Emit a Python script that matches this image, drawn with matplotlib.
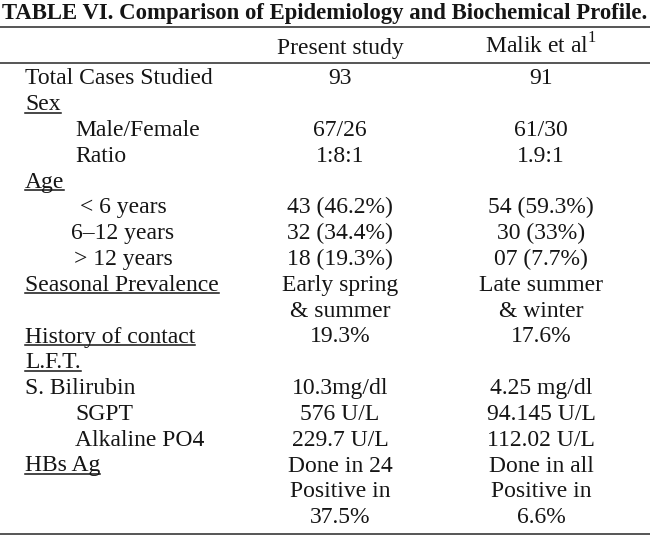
import matplotlib
matplotlib.use("Agg")
import matplotlib.pyplot as plt

plt.rcParams["font.family"] = ["Liberation Serif", "DejaVu Serif"]
plt.rcParams["mathtext.fontset"] = "custom"
plt.rcParams["mathtext.rm"] = "Liberation Serif"

title = "TABLE VI. Comparison of Epidemiology and Biochemical Profile."
headers = ["Present study", "Malik et al$^{1}$"]

row_labels = [
    "Total Cases Studied", "Sex", "Male/Female", "Ratio", "Age",
    "< 6 years", "6\u201312 years", "> 12 years", "Seasonal Prevalence", "",
    "History of contact", "L.F.T.", "S. Bilirubin", "SGPT", "Alkaline PO4",
    "HBs Ag", "", "",
]
present_study = [
    "93", "", "67/26", "1:8:1", "",
    "43 (46.2%)", "32 (34.4%)", "18 (19.3%)", "Early spring", "& summer",
    "19.3%", "", "10.3mg/dl", "576 U/L", "229.7 U/L",
    "Done in 24", "Positive in", "37.5%",
]
malik = [
    "91", "", "61/30", "1.9:1", "",
    "54 (59.3%)", "30 (33%)", "07 (7.7%)", "Late summer", "& winter",
    "17.6%", "", "4.25 mg/dl", "94.145 U/L", "112.02 U/L",
    "Done in all", "Positive in", "6.6%",
]
underlined = {"Sex", "Age", "Seasonal Prevalence", "History of contact", "L.F.T.", "HBs Ag"}
indented = {"Male/Female", "Ratio", "SGPT", "Alkaline PO4"}
age_rows = {"< 6 years", "6\u201312 years", "> 12 years"}

ink = "#151515"
fig = plt.figure(figsize=(6.5, 5.41), dpi=100)
ax = fig.add_axes([0, 0, 1, 1])
ax.set_xlim(0, 650)
ax.set_ylim(541, 0)
ax.axis("off")

fs = 17
ax.text(325, 19, title, ha="center", va="baseline", fontsize=16.4,
        fontweight="bold", color=ink)

# rules
for y in (27, 63, 534):
    ax.plot([0, 650], [y, y], color="#555555", lw=1.4)

col_x = [340, 541]
ax.text(col_x[0], 54, headers[0], ha="center", va="baseline", fontsize=fs, color=ink)
ax.text(col_x[1], 54, headers[1], ha="center", va="baseline", fontsize=fs, color=ink)

y0, step = 84.5, 25.8  # baseline of first row, row pitch
texts_to_underline = []
for i, lab in enumerate(row_labels):
    y = y0 + i * step
    if lab in age_rows:
        t = ax.text(123, y, lab, ha="center", va="baseline", fontsize=fs, color=ink)
    elif lab in indented:
        t = ax.text(75, y, lab, ha="left", va="baseline", fontsize=fs, color=ink)
    else:
        t = ax.text(25, y, lab, ha="left", va="baseline", fontsize=fs, color=ink)
    if lab in underlined:
        texts_to_underline.append((t, y))
    ax.text(col_x[0], y, present_study[i], ha="center", va="baseline", fontsize=fs, color=ink)
    ax.text(col_x[1], y, malik[i], ha="center", va="baseline", fontsize=fs, color=ink)

fig.canvas.draw()
r = fig.canvas.get_renderer()
inv = ax.transData.inverted()
for t, y in texts_to_underline:
    bb = t.get_window_extent(r)
    xa = inv.transform((bb.x0, bb.y0))[0]
    xb = inv.transform((bb.x1, bb.y1))[0]
    ax.plot([xa, xb], [y + 2.5, y + 2.5], color=ink, lw=1.1)

fig.savefig("out.png", dpi=100, facecolor="white")
